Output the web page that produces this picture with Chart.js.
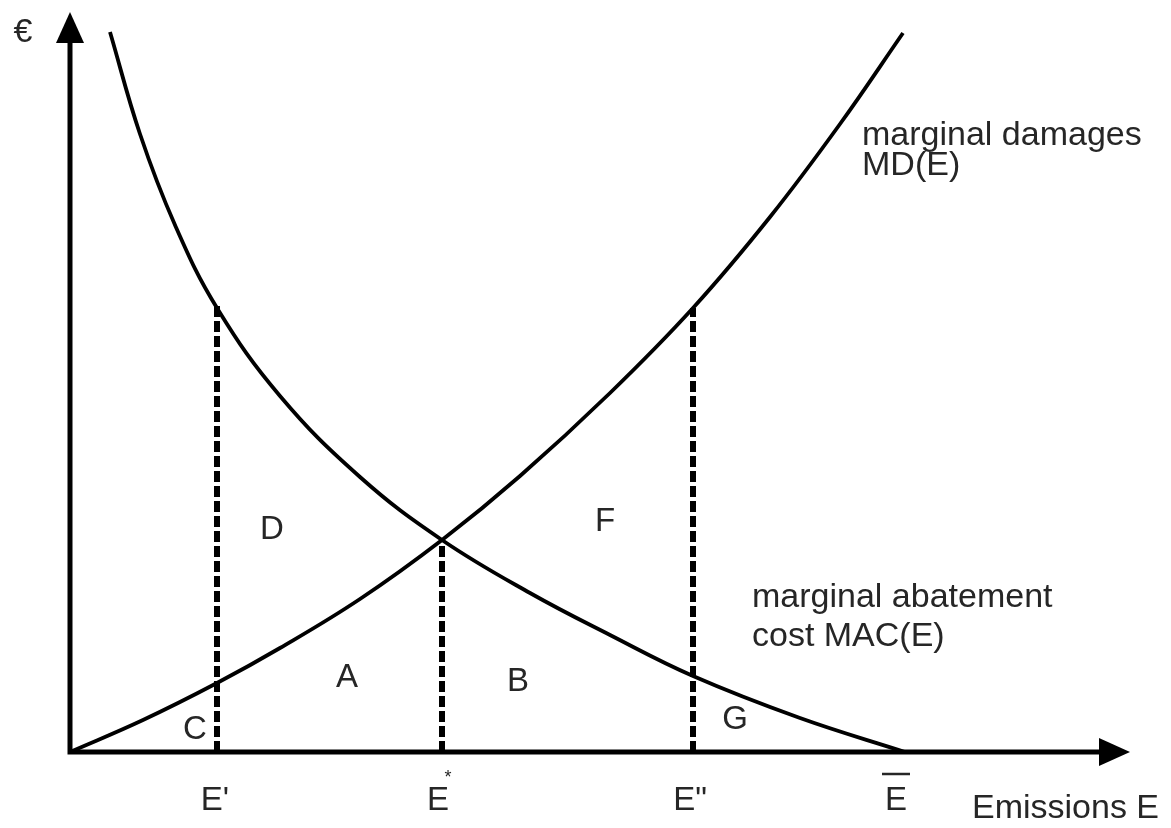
<!DOCTYPE html>
<html>
<head>
<meta charset="utf-8">
<script src="https://cdn.jsdelivr.net/npm/chart.js@4.4.0/dist/chart.umd.min.js"></script>
<style>
  html, body { margin: 0; padding: 0; background: #fff; }
  #wrap { width: 1171px; height: 828px; position: relative; }
</style>
</head>
<body>
<div id="wrap"><canvas id="chart"></canvas></div>
<script>
// values (x = emissions, y = euro)
const macX = [40, 70, 105, 147, 210, 290, 372, 460, 540, 623, 730, 835];
const macY = [720, 618, 527, 444, 356, 275, 212, 159, 117, 76, 34, 0];

const mdX = [0, 73, 147, 210, 290, 372, 450, 540, 623, 700, 770, 833];
const mdY = [0, 32, 69, 104, 153, 212, 276, 359, 444, 535, 628, 719];

// dashed drop lines: E', E*, E''
const dropX = [147, 372, 623];
const dropY = [447, 212, 444];

const tickX = [147, 372, 623, 835];
const tickLabels = ["E'", "E", "E\"", "E"];

const areaNames = ["D", "F", "A", "B", "C", "G"];
const areaX = [202, 535, 277, 448, 125, 665];
const areaY = [222, 230, 74, 70, 22, 32];

const X_MAX = 1060;
const Y_MAX = 740;
const FONT = "'Liberation Sans', Arial, sans-serif";
const INK = "#000";
const TEXT = "#262626";

const toPts = (xs, ys) => xs.map((x, i) => ({ x: x, y: ys[i] }));

const datasets = [
  {
    label: "MAC(E)",
    data: toPts(macX, macY),
    borderColor: INK,
    borderWidth: 3.8,
    pointRadius: 0,
    tension: 0.4,
    fill: false,
  },
  {
    label: "MD(E)",
    data: toPts(mdX, mdY),
    borderColor: INK,
    borderWidth: 3.8,
    pointRadius: 0,
    tension: 0.4,
    fill: false,
  },
];

dropX.forEach((x, i) => {
  datasets.push({
    label: "drop" + i,
    data: [{ x: x, y: 0 }, { x: x, y: dropY[i] }],
    borderColor: INK,
    borderWidth: 6,
    borderDash: [11, 4],
    borderCapStyle: "butt",
    pointRadius: 0,
    tension: 0,
    fill: false,
  });
});

const axesPlugin = {
  id: "axes",
  afterDatasetsDraw(chart) {
    const { ctx, scales } = chart;
    const x0 = scales.x.getPixelForValue(0);
    const y0 = scales.y.getPixelForValue(0);
    const xEnd = scales.x.getPixelForValue(X_MAX);
    const yEnd = scales.y.getPixelForValue(Y_MAX);
    ctx.save();
    ctx.strokeStyle = INK;
    ctx.fillStyle = INK;
    ctx.lineWidth = 5;
    ctx.beginPath();
    ctx.moveTo(x0, y0 + 2.5);
    ctx.lineTo(x0, yEnd + 25);
    ctx.moveTo(x0 - 2.5, y0);
    ctx.lineTo(xEnd - 25, y0);
    ctx.stroke();
    // arrow heads
    ctx.beginPath();
    ctx.moveTo(x0, yEnd);
    ctx.lineTo(x0 - 14, yEnd + 31);
    ctx.lineTo(x0 + 14, yEnd + 31);
    ctx.closePath();
    ctx.fill();
    ctx.beginPath();
    ctx.moveTo(xEnd, y0);
    ctx.lineTo(xEnd - 31, y0 - 14);
    ctx.lineTo(xEnd - 31, y0 + 14);
    ctx.closePath();
    ctx.fill();
    ctx.restore();
  },
};

const labelsPlugin = {
  id: "labels",
  afterDraw(chart) {
    const { ctx, scales } = chart;
    const px = (v) => scales.x.getPixelForValue(v);
    const py = (v) => scales.y.getPixelForValue(v);
    const y0 = py(0);
    ctx.save();
    ctx.fillStyle = TEXT;
    ctx.font = "33px " + FONT;

    // area letters
    ctx.textAlign = "center";
    ctx.textBaseline = "middle";
    areaNames.forEach((n, i) => ctx.fillText(n, px(areaX[i]), py(areaY[i])));

    // labels under the x axis
    ctx.textBaseline = "alphabetic";
    const shift = [-2, -4, -3, -9];
    tickLabels.forEach((t, i) => ctx.fillText(t, px(tickX[i]) + shift[i], y0 + 58));
    // star on E*
    ctx.font = "18px " + FONT;
    ctx.fillText("*", px(tickX[1]) + 6, y0 + 31);
    // bar over E
    ctx.strokeStyle = TEXT;
    ctx.lineWidth = 2.5;
    ctx.beginPath();
    ctx.moveTo(px(tickX[3]) - 23, y0 + 22);
    ctx.lineTo(px(tickX[3]) + 5, y0 + 22);
    ctx.stroke();

    ctx.font = "34px " + FONT;
    ctx.textAlign = "left";
    ctx.fillText("Emissions E", 972, y0 + 66);

    // curve names
    ctx.fillText("marginal damages", px(792), py(607));
    ctx.fillText("MD(E)", px(792), py(577));
    ctx.fillText("marginal abatement", px(682), py(145));
    ctx.fillText("cost MAC(E)", px(682), py(106));

    // y axis unit
    ctx.font = "34px " + FONT;
    ctx.textAlign = "center";
    ctx.fillText("€", chart.chartArea.left - 47, py(Y_MAX) + 30);
    ctx.restore();
  },
};

new Chart(document.getElementById("chart"), {
  type: "line",
  data: { datasets: datasets },
  options: {
    responsive: true,
    maintainAspectRatio: false,
    animation: false,
    layout: { padding: { left: 70, right: 41, top: 12, bottom: 76 } },
    scales: {
      x: { type: "linear", min: 0, max: X_MAX, display: false },
      y: { type: "linear", min: 0, max: Y_MAX, display: false },
    },
    plugins: {
      legend: { display: false },
      tooltip: { enabled: false },
    },
    datasets: { line: { clip: false } },
  },
  plugins: [axesPlugin, labelsPlugin],
});
</script>
</body>
</html>
